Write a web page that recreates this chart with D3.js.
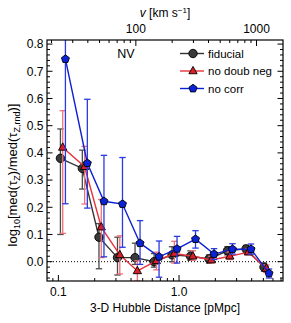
<!DOCTYPE html>
<html><head><meta charset="utf-8">
<script src="https://cdn.jsdelivr.net/npm/d3@7"></script>
<style>body{margin:0;background:#fff}svg{display:block}text{font-family:"Liberation Sans",Arial,sans-serif}</style>
</head><body>
<svg id="c" width="291" height="323"></svg>
<script>
// ---- data ----
const distance = [0.104,0.158,0.217,0.309,0.432,0.621,0.875,1.245,1.773,2.52,3.59,5.06];
const fiducial = [0.38,0.343,0.09,0.015,0.015,0.0,0.025,0.02,0.01,0.04,0.047,-0.02];
const fiducialLo = [0.10,0.267,-0.026,-0.049,-0.01,-0.02,0.0,0.005,-0.005,0.025,0.035,-0.035];
const fiducialHi = [0.488,0.41,0.14,0.09,0.068,0.03,0.055,0.04,0.025,0.055,0.06,-0.005];
const noDoubNeg = [0.42,0.349,0.127,0.025,-0.034,0.003,0.03,0.02,0.006,0.02,0.035,-0.025];
const noDoubNegLo = [0.104,0.212,0.015,-0.045,-0.071,-0.03,-0.005,0.005,-0.005,0.008,0.025,-0.04];
const noDoubNegHi = [0.555,0.424,0.229,0.095,0.003,0.035,0.075,0.04,0.02,0.035,0.048,-0.012];
const noCorr = [0.745,0.362,0.222,0.212,0.068,0.018,0.047,0.083,0.028,0.046,0.046,-0.043];
const noCorrLo = [0.213,0.197,0.018,0.053,-0.01,-0.057,-0.005,0.05,0.008,0.028,0.028,-0.06];
const noCorrHi = [1.0,0.597,0.391,0.383,0.151,0.076,0.093,0.114,0.048,0.066,0.065,-0.027];
const seriesNames = ["fiducial","no doub neg","no corr"];
const yTicks = [0.0,0.1,0.2,0.3,0.4,0.5,0.6,0.7,0.8];
const xTickLabels = [0.1,1.0];
const vTickLabels = [100,1000];
const hubble = 228; // km/s/Mpc, d -> v conversion

// ---- layout ----
const L=47,R=283,T=40,B=281;
const svg=d3.select("#c");
const x=d3.scaleLog().domain([0.0805,7.27]).range([L,R]);
const y=d3.scaleLinear().domain([-0.071,0.815]).range([B,T]);
const xv=d3.scaleLog().domain([0.0805*hubble,7.27*hubble]).range([L,R]);

svg.append("defs").append("clipPath").attr("id","clip").append("rect")
  .attr("x",L).attr("y",T).attr("width",R-L).attr("height",B-T);

// zero dotted line
svg.append("line").attr("x1",L).attr("x2",R).attr("y1",y(0)).attr("y2",y(0))
  .attr("stroke","#000").attr("stroke-width",1).attr("stroke-dasharray","1,2");

const styles=[
  {line:"#333",err:"#4a4a4a",fill:"#3a3a3a",sym:"circle",off:1.0},
  {line:"#e8323c",err:"#ee7078",fill:"#d8202a",sym:"tri",off:1.045},
  {line:"#0b1fd6",err:"#2a3ae0",fill:"#0a22d8",sym:"pent",off:1.10}
];
const vals=[fiducial,noDoubNeg,noCorr], los=[fiducialLo,noDoubNegLo,noCorrLo], his=[fiducialHi,noDoubNegHi,noCorrHi];

function marker(g,type,cx,cy,fill){
  if(type==="circle"){
    g.append("circle").attr("cx",cx).attr("cy",cy).attr("r",4.2).attr("fill",fill).attr("stroke","#000").attr("stroke-width",0.9);
  } else if(type==="tri"){
    const r=4.6;
    const p=[[0,-r],[r*0.9,r*0.6],[-r*0.9,r*0.6]].map(d=>[cx+d[0],cy+d[1]]);
    g.append("path").attr("d","M"+p.join("L")+"Z").attr("fill",fill).attr("stroke","#000").attr("stroke-width",0.9);
  } else {
    const r=4.2;
    const p=d3.range(5).map(i=>{const a=-Math.PI/2+i*2*Math.PI/5;return [cx+r*Math.cos(a),cy+r*Math.sin(a)];});
    g.append("path").attr("d","M"+p.join("L")+"Z").attr("fill",fill).attr("stroke","#000").attr("stroke-width",0.9);
  }
}

const plot=svg.append("g").attr("clip-path","url(#clip)");
styles.forEach((s,k)=>{
  const g=plot.append("g");
  const xs=distance.map(d=>x(d*s.off));
  distance.forEach((d,i)=>{
    const cx=xs[i];
    g.append("line").attr("x1",cx).attr("x2",cx).attr("y1",y(los[k][i])).attr("y2",y(his[k][i])).attr("stroke",s.err).attr("stroke-width",1.3);
    [los[k][i],his[k][i]].forEach(v=>g.append("line").attr("x1",cx-3.2).attr("x2",cx+3.2).attr("y1",y(v)).attr("y2",y(v)).attr("stroke",s.err).attr("stroke-width",1.3));
  });
  g.append("path").attr("d",d3.line()(distance.map((d,i)=>[xs[i],y(vals[k][i])])))
    .attr("fill","none").attr("stroke",s.line).attr("stroke-width",1.4);
  distance.forEach((d,i)=>marker(g,s.sym,xs[i],y(vals[k][i]),s.fill));
});

// frame
svg.append("rect").attr("x",L).attr("y",T).attr("width",R-L).attr("height",B-T).attr("fill","none").attr("stroke","#000").attr("stroke-width",1.2);

// ticks
const tk=svg.append("g").attr("stroke","#000").attr("stroke-width",1);
d3.range(-6,82,2).map(v=>v/100).forEach(v=>{
  const major=Math.abs(Math.round(v*10)-v*10)<1e-6;
  const len=major?5.5:3;
  const yy=y(v);
  if(yy<T-0.1||yy>B+0.1) return;
  tk.append("line").attr("x1",L).attr("x2",L+len).attr("y1",yy).attr("y2",yy);
  tk.append("line").attr("x1",R).attr("x2",R-len).attr("y1",yy).attr("y2",yy);
});
x.ticks(20).forEach(d=>{
  const m=Math.log10(d), major=Math.abs(m-Math.round(m))<1e-6;
  tk.append("line").attr("x1",x(d)).attr("x2",x(d)).attr("y1",B).attr("y2",B-(major?6:3));
});
xv.ticks(20).forEach(v=>{
  const m=Math.log10(v), major=Math.abs(m-Math.round(m))<1e-6;
  tk.append("line").attr("x1",xv(v)).attr("x2",xv(v)).attr("y1",T).attr("y2",T+(major?6:3));
});

// labels
const fs=12;
svg.selectAll(".yl").data(yTicks).enter().append("text").attr("x",L-3.5).attr("y",d=>y(d)+4.3)
  .attr("text-anchor","end").attr("font-size",fs).text(d=>d.toFixed(1));
svg.selectAll(".xl").data(xTickLabels).enter().append("text").attr("x",d=>x(d)).attr("y",296)
  .attr("text-anchor","middle").attr("font-size",fs).text(d=>d.toFixed(1));
svg.selectAll(".vl").data(vTickLabels).enter().append("text").attr("x",d=>xv(d)).attr("y",33)
  .attr("text-anchor","middle").attr("font-size",fs).text(d=>d);

svg.append("text").attr("x",165).attr("y",312).attr("text-anchor","middle").attr("font-size",fs)
  .text("3-D Hubble Distance [pMpc]");
const vt=svg.append("text").attr("x",165).attr("y",17).attr("text-anchor","middle").attr("font-size",fs);
vt.append("tspan").attr("font-style","italic").text("v");
vt.append("tspan").text(" [km s");
vt.append("tspan").attr("dy",-4).attr("font-size",8).text("\u22121");
vt.append("tspan").attr("dy",4).text("]");

const yl=svg.append("text").attr("transform","translate(17,175) rotate(-90)").attr("text-anchor","middle").attr("font-size",13);
yl.append("tspan").text("log");
yl.append("tspan").attr("dy",3).attr("font-size",9).text("10");
yl.append("tspan").attr("dy",-3).text("[med(\u03C4");
yl.append("tspan").attr("dy",3).attr("font-size",9).text("Z");
yl.append("tspan").attr("dy",-3).text(")/med(\u03C4");
yl.append("tspan").attr("dy",3).attr("font-size",9).text("Z,rnd");
yl.append("tspan").attr("dy",-3).text(")]");

svg.append("text").attr("x",126).attr("y",58).attr("text-anchor","middle").attr("font-size",12.5).text("NV");

// legend
const lg=svg.append("g");
seriesNames.forEach((n,i)=>{
  const yy=53.5+i*17.5, s=styles[i];
  lg.append("line").attr("x1",180).attr("x2",204).attr("y1",yy).attr("y2",yy).attr("stroke",s.line).attr("stroke-width",1.4);
  marker(lg,s.sym,193,yy,s.fill);
  lg.append("text").attr("x",208).attr("y",yy+4).attr("font-size",11.5).text(n);
});
</script>
</body></html>
